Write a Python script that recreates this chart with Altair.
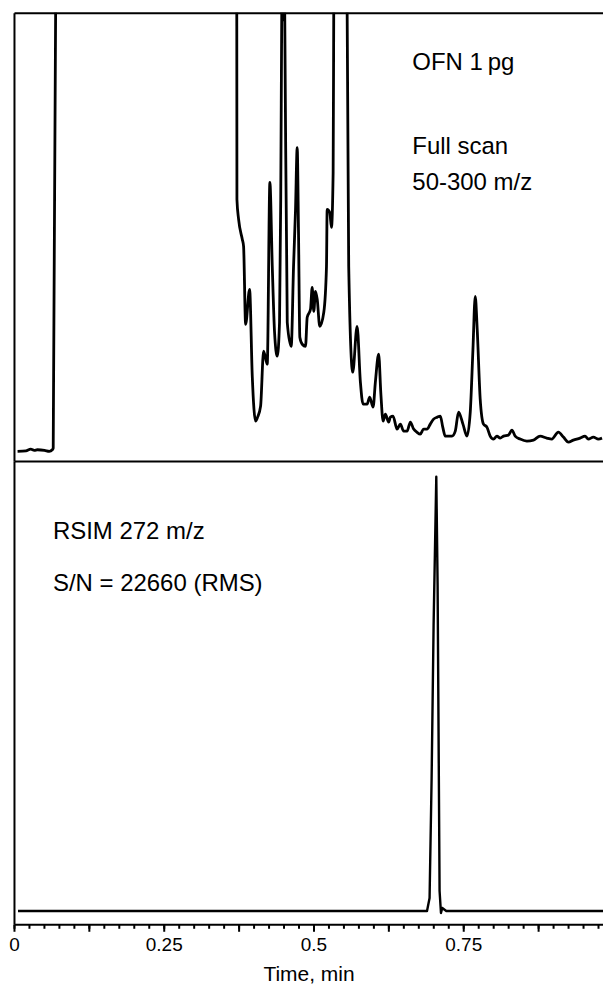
import altair as alt
import pandas as pd

# ---------------- data ----------------
# Full scan (TIC) trace: time (min) and relative intensity (values > 439 are off-scale)
full_t = [0.006, 0.020, 0.028, 0.034, 0.039, 0.051, 0.059, 0.064, 0.0655, 0.071, 0.20,
          0.3717, 0.3722, 0.375, 0.3812, 0.3833, 0.3867, 0.3933, 0.3978, 0.4033, 0.4067,
          0.4117, 0.4167, 0.4228, 0.4272, 0.4312, 0.435, 0.4395, 0.4433, 0.4453, 0.447,
          0.448, 0.4493, 0.4507, 0.452, 0.4562, 0.4628, 0.4667, 0.47, 0.4728, 0.475,
          0.4772, 0.4812, 0.4867, 0.4895, 0.495, 0.4978, 0.5005, 0.5033, 0.5062, 0.5105,
          0.5172, 0.5217, 0.5228, 0.5272, 0.53, 0.5328, 0.5338, 0.535, 0.545, 0.5555,
          0.5562, 0.5588, 0.5655, 0.5728, 0.5783, 0.5828, 0.5895, 0.5938, 0.5995, 0.6033,
          0.6088, 0.6125, 0.6162, 0.62, 0.6255, 0.6283, 0.6328, 0.6395, 0.645, 0.6505,
          0.6562, 0.6617, 0.6672, 0.6725, 0.6783, 0.6838, 0.6895, 0.695, 0.7005, 0.7067,
          0.7117, 0.7158, 0.72, 0.7312, 0.7367, 0.7422, 0.7495, 0.7562, 0.7617, 0.7662,
          0.77, 0.7733, 0.7783, 0.7838, 0.7895, 0.795, 0.8005, 0.8062, 0.8117, 0.8172,
          0.8255, 0.8312, 0.8367, 0.845, 0.8562, 0.8672, 0.8783, 0.8895, 0.8978, 0.9088,
          0.9172, 0.9255, 0.9338, 0.945, 0.9533, 0.9588, 0.9672, 0.9755, 0.9817]
full_v = [-0.3, 0.3, 2.0, 0.7, 1.3, 0.7, -0.3, 1.3, 3, 600, 800,
          600, 252, 232, 212, 205, 127, 162, 75, 30, 34,
          45, 100, 87, 269, 185, 119, 95, 129, 252, 439,
          520, 432, 520, 439, 129, 105, 185, 242, 304, 219,
          114, 107, 105, 134, 142, 164, 140, 160, 152, 125,
          139, 185, 242, 239, 224, 279, 439, 600, 800, 600,
          439, 185, 79, 125, 69, 47, 47, 54, 44, 69,
          97, 57, 30, 37, 29, 34, 35, 22, 27, 20,
          20, 29, 22, 19, 17, 22, 22, 27, 32, 34,
          35, 24, 15, 15, 20, 39, 27, 15, 39, 102,
          155, 122, 52, 27, 24, 15, 12, 15, 13, 15,
          16, 21, 15, 12, 10, 11, 15, 13, 12, 19,
          14, 9, 11, 13, 15, 12, 14, 12, 13]

# RSIM 272 m/z trace
rsim_t = [0.0067, 0.6895, 0.6938, 0.6972, 0.7005, 0.705, 0.7072, 0.7105, 0.7128,
          0.715, 0.7172, 0.7217, 0.9833]
rsim_v = [0, 0, 13, 133, 286, 435, 326, 20, -2, 3, 2, 0, 0]

top_labels = ["OFN 1\u2009pg", "Full scan", "50-300 m/z"]
top_label_t = [0.665, 0.665, 0.665]
top_label_v = [389, 305, 269]

bot_labels = ["RSIM 272 m/z", "S/N = 22660 (RMS)"]
bot_label_t = [0.065, 0.065]
bot_label_v = [380, 328]

major_ticks = [0, 0.125, 0.25, 0.375, 0.5, 0.625, 0.75, 0.875]
minor_ticks = [round(i * 0.025, 3) for i in range(40)]

# ---------------- chart ----------------
FONT = "Liberation Sans"
W = 590
H_TOP = 449
H_BOT = 464

top_df = pd.DataFrame({"t": full_t, "v": full_v, "i": list(range(len(full_t)))})
bot_df = pd.DataFrame({"t": rsim_t, "v": rsim_v, "i": list(range(len(rsim_t)))})
top_lab = pd.DataFrame({"label": top_labels, "t": top_label_t, "v": top_label_v})
bot_lab = pd.DataFrame({"label": bot_labels, "t": bot_label_t, "v": bot_label_v})

xscale = alt.Scale(domain=[0, 0.9833], nice=False, zero=False)
top_y = alt.Scale(domain=[-10, 439], nice=False, zero=False)
bot_y = alt.Scale(domain=[-13.3, 450.7], nice=False, zero=False)

frame_axis = dict(domain=True, domainColor="black", domainWidth=2, ticks=False,
                  labels=False, title=None, grid=False, minExtent=0)

top_line = alt.Chart(top_df).mark_line(
    color="black", strokeWidth=2.8, clip=True, strokeJoin="round", interpolate="monotone"
).encode(
    x=alt.X("t:Q", scale=xscale, axis=alt.Axis(orient="bottom", **frame_axis)),
    y=alt.Y("v:Q", scale=top_y, axis=alt.Axis(orient="left", **frame_axis)),
    order=alt.Order("i:Q"),
)

top_text = alt.Chart(top_lab).mark_text(
    align="left", baseline="middle", font=FONT, fontSize=24, color="black"
).encode(
    x=alt.X("t:Q", scale=xscale, axis=alt.Axis(orient="top", **frame_axis)),
    y=alt.Y("v:Q", scale=top_y, axis=alt.Axis(orient="left", **frame_axis)),
    text="label:N",
)

top = alt.layer(top_line, top_text).resolve_axis(x="independent").properties(
    width=W, height=H_TOP
)

bot_line = alt.Chart(bot_df).mark_line(
    color="black", strokeWidth=2.4, clip=True, strokeJoin="round"
).encode(
    x=alt.X("t:Q", scale=xscale, title="Time, min", axis=alt.Axis(
        orient="bottom", values=major_ticks, domain=True, domainColor="black",
        domainWidth=2, ticks=True, tickColor="black", tickWidth=2, tickSize=7,
        labels=True, labelExpr="round(datum.value*8) % 2 == 0 ? format(datum.value, '~g') : ''",
        labelFont=FONT, labelFontSize=19, labelColor="black", labelPadding=4,
        labelFlush=False, labelOverlap=False, grid=False,
        titleFont=FONT, titleFontSize=21, titleFontWeight="normal", titleColor="black",
        titlePadding=9)),
    y=alt.Y("v:Q", scale=bot_y, axis=alt.Axis(orient="left", **frame_axis)),
    order=alt.Order("i:Q"),
)

bot_text = alt.Chart(bot_lab).mark_text(
    align="left", baseline="middle", font=FONT, fontSize=24, color="black"
).encode(
    x=alt.X("t:Q", scale=xscale, axis=alt.Axis(
        orient="bottom", values=minor_ticks, domain=False, ticks=True,
        tickColor="black", tickWidth=2, tickSize=4, labels=False, title=None, grid=False)),
    y=alt.Y("v:Q", scale=bot_y, axis=alt.Axis(orient="left", **frame_axis)),
    text="label:N",
)

bottom = alt.layer(bot_line, bot_text).resolve_axis(x="independent").properties(
    width=W, height=H_BOT
)

chart = alt.vconcat(top, bottom, spacing=0).properties(
    padding={"left": 8, "top": 12, "right": 0, "bottom": 0},
    background="white",
).configure_view(strokeWidth=0)

chart.save("out.html", embed_options={"renderer": "svg", "actions": False})
